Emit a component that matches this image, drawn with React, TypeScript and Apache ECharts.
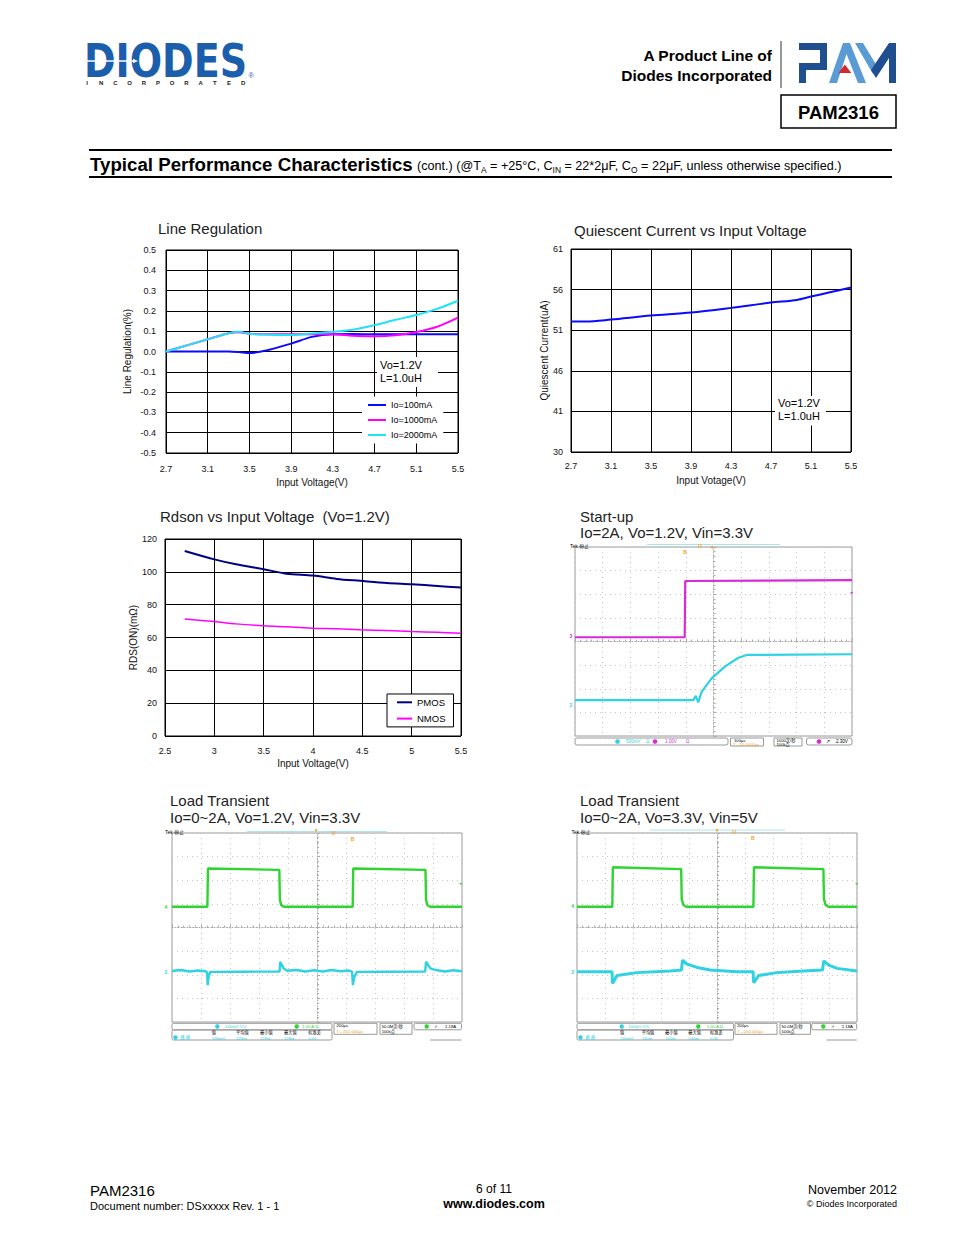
import React, { useEffect, useRef } from "react";
import * as echarts from "echarts";

const FONT = "'Liberation Sans', Arial, Helvetica, sans-serif";
const CJK = "'Liberation Sans', 'Noto Sans CJK SC', sans-serif";

// ---------- Line Regulation ----------
const lrVin = [2.7, 2.9, 3.1, 3.3, 3.4, 3.5, 3.7, 3.9, 4.1, 4.3, 4.5, 4.7, 4.9, 5.1, 5.3, 5.5];
const lrIo100 = [0, 0, 0, 0, -0.003, -0.008, 0.01, 0.039, 0.072, 0.085, 0.086, 0.085, 0.085, 0.085, 0.085, 0.085];
const lrIo1000 = [0, 0.03, 0.06, 0.09, 0.095, 0.087, 0.085, 0.085, 0.086, 0.085, 0.077, 0.075, 0.08, 0.096, 0.122, 0.167];
const lrIo2000 = [0, 0.03, 0.06, 0.09, 0.097, 0.087, 0.083, 0.081, 0.089, 0.097, 0.108, 0.13, 0.156, 0.18, 0.21, 0.25];
const lrNames = ["Io=100mA", "Io=1000mA", "Io=2000mA"];

// ---------- Quiescent current ----------
const iqVin = [2.7, 2.85, 3.1, 3.5, 3.9, 4.3, 4.7, 4.96, 5.1, 5.29, 5.5];
const iqUA = [52.07, 52.07, 52.31, 52.8, 53.17, 53.75, 54.4, 54.73, 55.14, 55.67, 56.25];
const iqTickLabels = ["30", "41", "46", "51", "56", "61"];

// ---------- Rdson ----------
const rdVin = [2.7, 3.0, 3.22, 3.5, 3.73, 4.0, 4.24, 4.48, 4.75, 5.0, 5.26, 5.5];
const rdPmos = [112.7, 107.6, 104.6, 101.6, 98.9, 97.7, 95.7, 94.5, 93.2, 92.4, 91.4, 90.4];
const rdNmos = [71.2, 69.7, 68.3, 67.1, 66.5, 65.7, 65.3, 64.7, 64.2, 63.6, 63.2, 62.6];

// ---------- Scope traces (time and amplitude in screen divisions from centre) ----------
const suCh3 = [[-5, 0.18], [-1.04, 0.18], [-1.02, 2.56], [5, 2.6]];
const suCh2 = [[-5, -2.48], [-0.73, -2.48], [-0.64, -2.3], [-0.55, -2.58], [-0.43, -2.13], [-0.07, -1.56], [0.42, -1.05], [0.9, -0.69], [1.2, -0.57], [5, -0.54]];

const lt1Ch4 = [[-5, 0.88], [-3.78, 0.88], [-3.76, 2.5], [-1.3, 2.44], [-1.28, 1.2], [-1.24, 0.95], [-1.15, 0.88], [1.23, 0.88], [1.25, 2.5], [3.74, 2.44], [3.76, 1.2], [3.8, 0.95], [3.9, 0.88], [5, 0.88]];
const lt1Ch2 = [[-5, -1.84], [-4.7, -1.8], [-4.4, -1.86], [-4.1, -1.82], [-3.85, -1.85], [-3.79, -1.9], [-3.77, -2.44], [-3.74, -2.1], [-3.68, -1.88], [-2.5, -1.87], [-1.29, -1.86], [-1.27, -1.45], [-1.15, -1.73], [-1.03, -1.83], [-0.7, -1.8], [-0.4, -1.86], [-0.1, -1.81], [0.2, -1.86], [0.5, -1.8], [0.8, -1.85], [1.1, -1.82], [1.21, -1.88], [1.24, -2.44], [1.28, -2.1], [1.38, -1.88], [2.5, -1.87], [3.73, -1.86], [3.76, -1.45], [3.91, -1.73], [4.1, -1.8], [4.4, -1.86], [4.7, -1.81], [5, -1.85]];

const lt2Ch4 = [[-5, 0.88], [-3.74, 0.88], [-3.72, 2.55], [-1.28, 2.47], [-1.26, 1.2], [-1.2, 0.95], [-1.1, 0.88], [1.3, 0.88], [1.32, 2.55], [3.8, 2.47], [3.82, 1.2], [3.88, 0.95], [3.98, 0.88], [5, 0.88]];
const lt2Ch2 = [[-5, -1.87], [-3.75, -1.87], [-3.73, -2.37], [-3.57, -2.03], [-2.86, -1.91], [-1.67, -1.84], [-1.27, -1.8], [-1.23, -1.38], [-1.07, -1.55], [-0.71, -1.69], [-0.24, -1.8], [0.71, -1.87], [1.29, -1.87], [1.31, -2.34], [1.49, -2.03], [2.14, -1.91], [3.09, -1.84], [3.77, -1.8], [3.81, -1.41], [3.99, -1.59], [4.29, -1.73], [5, -1.84]];

const C_BLUE = "#0a0aff";
const C_MAG = "#ff00ff";
const C_CYAN = "#1fe3f7";
const S_MAG = "#d92ad9";
const S_CYAN = "#2fd2e2";
const S_GREEN = "#2fd52f";
const ORANGE = "#f0a020";

let mctx: CanvasRenderingContext2D | null = null;
function measure(text: string, size: number, weight = "normal", family = FONT) {
  if (!mctx) mctx = document.createElement("canvas").getContext("2d");
  if (!mctx) return text.length * size * 0.55;
  mctx.font = `${weight} ${size}px ${family}`;
  return mctx.measureText(text).width;
}

function txt(x: number, y: number, text: string, size: number, o: any = {}) {
  const align = o.align || "left";
  const va = o.va || "middle";
  const el: any = {
    type: "text", x, y, z: o.z ?? 30, silent: true,
    style: {
      text, fontSize: size, fontFamily: o.family || FONT, fontWeight: o.weight || "normal",
      fill: o.fill || "#000", align, verticalAlign: va, textAlign: align, textVerticalAlign: va,
    },
  };
  if (o.scaleX) el.scaleX = o.scaleX;
  if (o.bg) { el.style.backgroundColor = o.bg; el.style.padding = o.padding || 0; }
  if (o.lineHeight) el.style.lineHeight = o.lineHeight;
  return el;
}
function rect(x: number, y: number, w: number, h: number, o: any = {}) {
  return { type: "rect", z: o.z ?? 30, silent: true, shape: { x, y, width: w, height: h, r: o.r || 0 }, style: { fill: o.fill || "none", stroke: o.stroke || "none", lineWidth: o.lw || 1 } };
}
function ln(x1: number, y1: number, x2: number, y2: number, o: any = {}) {
  return { type: "line", z: o.z ?? 30, silent: true, shape: { x1, y1, x2, y2 }, style: { stroke: o.stroke || "#000", lineWidth: o.lw || 1 } };
}
function poly(points: number[][], fill: string) {
  return { type: "polygon", z: 30, silent: true, shape: { points }, style: { fill } };
}
function circ(cx: number, cy: number, r: number, fill: string) {
  return { type: "circle", z: 30, silent: true, shape: { cx, cy, r }, style: { fill } };
}

function scopeTop(tekX: number, tekY: number, barX1: number, barX2: number, barY: number, marks: number[][]) {
  const els: any[] = [txt(tekX, tekY, "Tek 停止", 5, { family: CJK })];
  els.push(ln(barX1, barY, barX2, barY, { stroke: "#a8e8ea", lw: 1 }));
  const glyphs = ["▾", "U", "B"];
  marks.forEach((m, i) => els.push(txt(m[0], m[1], glyphs[i], 5, { fill: ORANGE, align: "center", weight: "bold" })));
  return els;
}

function buildGraphics() {
  const g: any[] = [];
  // ---- header: DIODES logo ----
  g.push(txt(84, 61, "DIODES", 47, { family: "'DejaVu Sans', sans-serif", weight: "bold", fill: "#1b5eab", scaleX: 0.81 }));
  g.push(rect(86, 60.3, 48, 1.4, { fill: "#fff", z: 31 }));
  g.push({ ...poly([[133, 58.8], [138, 61], [133, 63.2]], "#fff"), z: 31 });
  "INCORPORATED".split("").forEach((ch, i) => g.push(txt(87 + i * 14.2, 82.5, ch, 6, { weight: "bold", align: "center", fill: "#222" })));
  g.push(txt(251, 75.5, "®", 7, { fill: "#1b5eab", align: "center" }));
  // product line text
  g.push(txt(772, 55, "A Product Line of", 15.5, { weight: "bold", align: "right" }));
  g.push(txt(772, 75, "Diodes Incorporated", 15.5, { weight: "bold", align: "right" }));
  g.push(ln(781, 41, 781, 88, { stroke: "#333", lw: 1 }));
  // PAM logo
  g.push(poly([[799, 43], [827, 43], [827, 70], [806, 70], [806, 83], [799, 83], [799, 63], [820, 63], [820, 50], [799, 50]], "#1f4f8f"));
  g.push(poly([[829, 83], [843, 43], [850, 43], [866, 83], [858, 83], [846.5, 54], [837, 83]], "#5b9bd5"));
  g.push(poly([[844.8, 64.5], [851.3, 73], [838.5, 73]], "#d7262e"));
  g.push(poly([[855, 43], [863, 43], [877, 66], [873, 74]], "#5b9bd5"));
  g.push(poly([[871, 70], [889, 43], [896, 43], [896, 83], [889, 83], [889, 58], [876, 78]], "#1f4f8f"));
  g.push(rect(781, 95, 115, 33, { stroke: "#000", lw: 1.5 }));
  g.push(txt(838.5, 112, "PAM2316", 18.5, { weight: "bold", align: "center" }));

  // ---- section heading ----
  g.push(ln(89, 150, 892, 150, { lw: 2 }));
  g.push(ln(89, 177, 892, 177, { lw: 2 }));
  const head = "Typical Performance Characteristics";
  let hs = 18.5 * 323 / measure(head, 18.5, "bold");
  if (!(hs > 15 && hs < 21)) hs = 18.5;
  g.push(txt(90, 164, head, hs, { weight: "bold" }));
  const segs: [string, boolean][] = [["(cont.) (@T", false], ["A", true], [" = +25°C, C", false], ["IN", true], [" = 22*2μF, C", false], ["O", true], [" = 22μF, unless otherwise specified.)", false]];
  let total = 0;
  segs.forEach(([s, sub]) => (total += measure(s, sub ? 8 : 12)));
  let k = 425 / total;
  if (!(k > 0.7 && k < 1.3)) k = 1;
  let sx = 417;
  segs.forEach(([s, sub]) => {
    const sz = (sub ? 8 : 12) * k;
    g.push(txt(sx, sub ? 169.5 : 166, s, sz));
    sx += measure(s, sz);
  });

  // ---- chart titles ----
  const tf = { fill: "#222" };
  g.push(txt(158, 228, "Line Regulation", 15, tf));
  g.push(txt(574, 230, "Quiescent Current vs Input Voltage", 15, tf));
  g.push(txt(160, 516, "Rdson vs Input Voltage  (Vo=1.2V)", 15, tf));
  g.push(txt(580, 516, "Start-up", 15, tf));
  g.push(txt(580, 532, "Io=2A, Vo=1.2V, Vin=3.3V", 15, tf));
  g.push(txt(170, 800, "Load Transient", 15, tf));
  g.push(txt(170, 817, "Io=0~2A, Vo=1.2V, Vin=3.3V", 15, tf));
  g.push(txt(580, 800, "Load Transient", 15, tf));
  g.push(txt(580, 817, "Io=0~2A, Vo=3.3V, Vin=5V", 15, tf));

  // ---- annotations ----
  g.push({ ...txt(377, 357, "Vo=1.2V\nL=1.0uH", 11, { va: "top", bg: "#fff", padding: [1, 16, 2, 3], lineHeight: 13.5 }), z: 40 });
  g.push({ ...txt(775, 396, "Vo=1.2V\nL=1.0uH", 11, { va: "top", bg: "#fff", padding: [1, 6, 3, 3], lineHeight: 12.7 }), z: 40 });

  // ---- Start-up scope decorations ----
  g.push(...scopeTop(570, 545.5, 647, 780, 544.5, [[712.7, 547], [700, 545.5], [685, 552]]));
  g.push(txt(571, 636, "3", 5, { fill: S_MAG, weight: "bold", align: "center" }));
  g.push(txt(571, 705, "2", 5, { fill: S_CYAN, weight: "bold", align: "center" }));
  g.push(txt(851, 592, "◂", 5, { fill: S_MAG, align: "center" }));
  g.push(rect(575, 738, 153, 7, { stroke: "#999", r: 2 }));
  g.push(circ(617.5, 741.5, 2.3, S_CYAN));
  g.push(txt(626, 741.5, "500mV", 4.5, { fill: S_CYAN }));
  g.push(txt(646, 741.5, "Ω", 4.5, { fill: S_CYAN }));
  g.push(circ(655, 741.5, 2.3, S_MAG));
  g.push(txt(665, 741.5, "1.00V", 4.5, { fill: S_MAG }));
  g.push(txt(686, 741.5, "Ω", 4.5, { fill: S_MAG }));
  g.push(rect(730.5, 738, 33, 8, { stroke: "#999" }));
  g.push(txt(734, 740.5, "100μs", 4.2));
  g.push(txt(733, 744, "T→10.0000μs", 4.2, { fill: ORANGE, family: CJK }));
  g.push(rect(774, 738, 28, 8, { stroke: "#999" }));
  g.push(txt(776.5, 740.5, "1000次/秒", 4.2, { family: CJK }));
  g.push(txt(776.5, 744, "100k点", 4.2, { family: CJK }));
  g.push(rect(806.5, 738, 45.5, 7, { stroke: "#999", r: 2 }));
  g.push(circ(819, 741.5, 2.3, S_MAG));
  g.push(txt(826, 741.5, "↗", 4.5));
  g.push(txt(836, 741.5, "2.30V", 4.5));

  // ---- Load transient 1 decorations ----
  g.push(...scopeTop(165, 831.5, 247, 387, 831.5, [[316, 830], [333.5, 832.5], [352.5, 839]]));
  g.push(txt(166, 906.7, "4", 5, { fill: S_GREEN, weight: "bold", align: "center" }));
  g.push(txt(166, 971.7, "2", 5, { fill: S_CYAN, weight: "bold", align: "center" }));
  g.push(txt(460, 883.3, "◂", 5, { fill: S_GREEN, align: "center" }));
  g.push(rect(172, 1023.3, 160, 6.5, { stroke: "#999", r: 1.5 }));
  g.push(circ(217.3, 1026.5, 2.2, S_CYAN));
  g.push(txt(225, 1026.5, "100mV 5%", 4.3, { fill: S_CYAN }));
  g.push(circ(296.7, 1026.5, 2.2, S_GREEN));
  g.push(txt(302, 1026.5, "1.00 A Ω", 4.3, { fill: S_GREEN }));
  g.push(rect(334, 1023.3, 43, 11, { stroke: "#999" }));
  g.push(txt(336.5, 1025.8, "200μs", 4.2));
  g.push(txt(336.5, 1031.5, "T→252.000μs", 4.2, { fill: ORANGE }));
  g.push(rect(380, 1023.3, 32, 11, { stroke: "#999" }));
  g.push(txt(381.7, 1026, "50.0M次/秒", 4.2, { family: CJK }));
  g.push(txt(381.7, 1031.5, "100k点", 4.2, { family: CJK }));
  g.push(rect(414, 1023.3, 47.5, 6.5, { stroke: "#999", r: 1.5 }));
  g.push(circ(426.7, 1026.5, 2.2, S_GREEN));
  g.push(txt(434, 1026.5, "↗", 4.3));
  g.push(txt(445, 1026.5, "1.18A", 4.3));
  g.push(rect(172, 1030, 160, 10, { stroke: "#999", r: 1.5 }));
  g.push(circ(175.5, 1037.5, 2.2, S_CYAN));
  g.push(txt(180.5, 1037.5, "峰-峰", 4.2, { family: CJK, fill: S_CYAN }));
  [["值", "128mV", 211.7], ["平均值", "128m", 236], ["最小值", "128m", 260], ["最大值", "128m", 284], ["标准差", "0.00", 308.3]].forEach(([h, v, x]) => {
    g.push(txt(x as number, 1032.8, h as string, 4.2, { family: CJK }));
    g.push(txt(x as number, 1038.3, v as string, 4.2, { fill: S_CYAN }));
  });
  g.push(ln(430, 1040, 461.5, 1040, { stroke: "#999" }));

  // ---- Load transient 2 decorations ----
  g.push(...scopeTop(571.5, 831.5, 650, 785, 830, [[717.3, 830], [734, 831.7], [752.7, 837.7]]));
  g.push(txt(572.7, 906, "4", 5, { fill: S_GREEN, weight: "bold", align: "center" }));
  g.push(txt(572.7, 971.7, "2", 5, { fill: S_CYAN, weight: "bold", align: "center" }));
  g.push(txt(856, 882.7, "◂", 5, { fill: S_GREEN, align: "center" }));
  g.push(rect(577, 1023.3, 156.5, 6.5, { stroke: "#999", r: 1.5 }));
  g.push(circ(621.7, 1026.5, 2.2, S_CYAN));
  g.push(txt(628, 1026.5, "100mV 5%", 4.3, { fill: S_CYAN }));
  g.push(circ(698.3, 1026.5, 2.2, S_GREEN));
  g.push(txt(706.7, 1026.5, "1.00 A Ω", 4.3, { fill: S_GREEN }));
  g.push(rect(735, 1023.3, 42, 11, { stroke: "#999" }));
  g.push(txt(737, 1025.8, "200μs", 4.2));
  g.push(txt(737, 1031.5, "T→254.000μs", 4.2, { fill: ORANGE }));
  g.push(rect(780, 1023.3, 30.5, 11, { stroke: "#999" }));
  g.push(txt(781.5, 1026, "50.0M次/秒", 4.2, { family: CJK }));
  g.push(txt(781.5, 1031.5, "100k点", 4.2, { family: CJK }));
  g.push(rect(811.7, 1023.3, 45, 6.5, { stroke: "#999", r: 1.5 }));
  g.push(circ(823.3, 1026.5, 2.2, S_GREEN));
  g.push(txt(831, 1026.5, "↗", 4.3));
  g.push(txt(841.7, 1026.5, "1.18A", 4.3));
  g.push(rect(577, 1030, 156.5, 10, { stroke: "#999", r: 1.5 }));
  g.push(circ(580.5, 1037.5, 2.2, S_CYAN));
  g.push(txt(585.5, 1037.5, "峰-峰", 4.2, { family: CJK, fill: S_CYAN }));
  [["值", "140mV", 620], ["平均值", "140m", 641.7], ["最小值", "140m", 665], ["最大值", "140m", 688.3], ["标准差", "0.00", 710]].forEach(([h, v, x]) => {
    g.push(txt(x as number, 1032.8, h as string, 4.2, { family: CJK }));
    g.push(txt(x as number, 1038.3, v as string, 4.2, { fill: S_CYAN }));
  });
  g.push(ln(826.7, 1040, 856.7, 1040, { stroke: "#999" }));

  // ---- footer ----
  g.push(txt(90, 1190, "PAM2316", 15));
  g.push(txt(90, 1206, "Document number: DSxxxxx Rev. 1 - 1", 11));
  g.push(txt(494, 1189, "6 of 11", 12, { align: "center" }));
  g.push(txt(494, 1204, "www.diodes.com", 12.5, { align: "center", weight: "bold" }));
  g.push(txt(897, 1190, "November 2012", 12.5, { align: "right" }));
  g.push(txt(897, 1204, "© Diodes Incorporated", 9, { align: "right" }));
  return g;
}

function chartX(gi: number, min: number, max: number, interval: number, name: string, margin: number, nameGap: number, fmt?: any) {
  return {
    gridIndex: gi, type: "value", min, max, interval,
    axisLine: { show: false }, axisTick: { show: false },
    splitLine: { show: true, lineStyle: { color: "#000", width: 1 } },
    axisLabel: { color: "#111", fontSize: 9, fontFamily: FONT, margin, formatter: fmt },
    name, nameLocation: "middle", nameGap,
    nameTextStyle: { color: "#111", fontSize: 10, fontFamily: FONT },
  };
}
function scopeX(gi: number) {
  return {
    gridIndex: gi, type: "value", min: -5, max: 5, interval: 1,
    axisLine: { show: true, onZero: true, lineStyle: { color: "#aaa", width: 1, type: [1, 2] } },
    axisTick: { show: true, inside: true, length: 3, lineStyle: { color: "#aaa" } },
    minorTick: { show: true, splitNumber: 5, length: 2, lineStyle: { color: "#aaa" } },
    axisLabel: { show: false },
    splitLine: { show: true, lineStyle: { color: "#c4c4c4", width: 1, type: [1, 4] } },
  };
}
function scopeY(gi: number) {
  return {
    gridIndex: gi, type: "value", min: -4, max: 4, interval: 1,
    axisLine: { show: true, onZero: true, lineStyle: { color: "#aaa", width: 1, type: [1, 2] } },
    axisTick: { show: true, inside: true, length: 3, lineStyle: { color: "#aaa" } },
    minorTick: { show: true, splitNumber: 5, length: 2, lineStyle: { color: "#aaa" } },
    axisLabel: { show: false },
    splitLine: { show: true, lineStyle: { color: "#c4c4c4", width: 1, type: [1, 4] } },
  };
}

function pairs(xs: number[], ys: number[]) {
  return xs.map((x, i) => [x, ys[i]]);
}
function lineS(name: string, gi: number, data: any[], color: string, width: number, smooth: any = false) {
  return {
    name, type: "line", xAxisIndex: gi, yAxisIndex: gi, data, color, smooth,
    showSymbol: false, symbol: "none", silent: true,
    lineStyle: { color, width },
  };
}

function buildOption() {
  const fix1 = (v: number) => (Math.abs(v) < 1e-9 ? "0.0" : v.toFixed(1));
  const chartGrid = (left: number, top: number, width: number, height: number) => ({ left, top, width, height, show: true, borderColor: "#000", borderWidth: 1, backgroundColor: "transparent" });
  const scopeGrid = (left: number, top: number, width: number, height: number) => ({ left, top, width, height, show: true, borderColor: "#9a9a9a", borderWidth: 1, backgroundColor: "transparent" });
  return {
    animation: false,
    backgroundColor: "#fff",
    textStyle: { fontFamily: FONT },
    grid: [
      chartGrid(166, 250, 292, 203),
      chartGrid(571, 249, 280, 203),
      chartGrid(165, 539, 296, 197),
      scopeGrid(575, 547, 277, 189),
      scopeGrid(172, 833, 290, 189),
      scopeGrid(577, 833, 280, 189),
    ],
    xAxis: [
      chartX(0, 2.7, 5.5, 0.4, "Input Voltage(V)", 11, 24, fix1),
      chartX(1, 2.7, 5.5, 0.4, "Input Votage(V)", 9, 23, fix1),
      chartX(2, 2.5, 5.5, 0.5, "Input Voltage(V)", 10, 22),
      scopeX(3), scopeX(4), scopeX(5),
    ],
    yAxis: [
      chartX(0, -0.5, 0.5, 0.1, "Line Regulation(%)", 10, 34, fix1),
      chartX(1, 36, 61, 5, "Quiescent Current(uA)", 8, 21, (v: number) => iqTickLabels[Math.round((v - 36) / 5)] ?? String(v)),
      chartX(2, 0, 120, 20, "RDS(ON)(mΩ)", 8, 22),
      scopeY(3), scopeY(4), scopeY(5),
    ],
    legend: [
      {
        data: lrNames, orient: "vertical", left: 362, top: 396.5, icon: "rect",
        itemWidth: 18, itemHeight: 2, itemGap: 6, padding: [4, 6, 4, 6],
        backgroundColor: "#fff", selectedMode: false,
        textStyle: { fontSize: 9, color: "#000", fontFamily: FONT },
      },
      {
        data: ["PMOS", "NMOS"], orient: "vertical", left: 387, top: 694, icon: "rect",
        itemWidth: 15, itemHeight: 2, itemGap: 6.3, padding: [3.3, 8, 3.3, 10],
        backgroundColor: "#fff", borderColor: "#000", borderWidth: 1, selectedMode: false,
        textStyle: { fontSize: 9.5, color: "#000", fontFamily: FONT },
      },
    ],
    series: [
      lineS(lrNames[0], 0, pairs(lrVin, lrIo100), C_BLUE, 2, 0.3),
      lineS(lrNames[1], 0, pairs(lrVin, lrIo1000), C_MAG, 2, 0.3),
      lineS(lrNames[2], 0, pairs(lrVin, lrIo2000), C_CYAN, 2, 0.3),
      lineS("Iq", 1, pairs(iqVin, iqUA), C_BLUE, 2, 0.3),
      lineS("PMOS", 2, pairs(rdVin, rdPmos), "#000080", 2, 0.3),
      lineS("NMOS", 2, pairs(rdVin, rdNmos), C_MAG, 1.5, 0.3),
      lineS("SU CH3", 3, suCh3, S_MAG, 2.2),
      lineS("SU CH2", 3, suCh2, S_CYAN, 2.2),
      lineS("LT1 CH4", 4, lt1Ch4, S_GREEN, 2.4),
      lineS("LT1 CH2", 4, lt1Ch2, S_CYAN, 2.4),
      lineS("LT2 CH4", 5, lt2Ch4, S_GREEN, 2.4),
      lineS("LT2 CH2", 5, lt2Ch2, S_CYAN, 3),
    ],
    graphic: buildGraphics(),
  };
}

export default function App() {
  const ref = useRef<HTMLDivElement>(null);
  useEffect(() => {
    if (!ref.current) return;
    const chart = echarts.init(ref.current, null, { renderer: "svg", width: 954, height: 1235 });
    chart.setOption(buildOption() as any);
    return () => chart.dispose();
  }, []);
  return <div ref={ref} style={{ position: "absolute", left: 0, top: 0, width: 954, height: 1235, background: "#fff" }} />;
}
